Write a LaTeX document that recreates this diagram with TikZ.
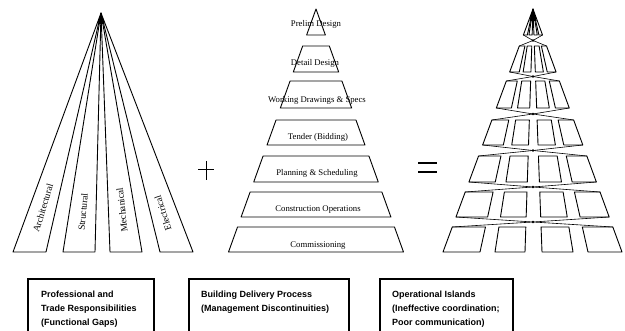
\documentclass[tikz,border=0pt]{standalone}
\usepackage{fontspec}
\setmainfont{Liberation Serif}
\newfontfamily\capsans{Liberation Sans}
\begin{document}
\begin{tikzpicture}[x=1pt,y=-1pt,
  edge/.style={line width=0.9pt, line join=round},
  thinedge/.style={line width=0.6pt},
  tierlabel/.style={font=\fontsize{8.7}{10}\selectfont, inner sep=0pt, anchor=base},
  fanlabel/.style={font=\fontsize{9.5}{11}\selectfont, inner sep=0pt},
  captionbox/.style={line width=1.2pt},
  captiontext/.style={font=\capsans\bfseries\fontsize{9}{14}\selectfont, align=left, anchor=north west, inner sep=0pt}]
\clip (0,0) rectangle (625,331);
\fill[white] (0,0) rectangle (625,331);

% ---- trade fan: four wedges from a common apex
\coordinate (fanapex) at (101,13);
\foreach \l/\r in {13/46, 63/95, 110/142, 160/193}
  \draw[edge] (fanapex) -- (\l,252) -- (\r,252) -- cycle;
\fill (fanapex) -- (98.5,24) -- (103.5,24) -- cycle;
\node[fanlabel, rotate=73.3]  (arch)  at (43,208)  {Architectural};
\node[fanlabel, rotate=84.7]  (struc) at (83,212)  {Structural};
\node[fanlabel, rotate=96.0]  (mech)  at (122,210) {Mechanical};
\node[fanlabel, rotate=107.5] (elec)  at (163,213) {Electrical};

% ---- plus sign
\draw[line width=1pt] (198,170) -- (214,170) (206,161) -- (206,180);

% ---- delivery process: stacked tiers of one triangle
\foreach \t/\b in {9/35, 46/72, 81/108, 120/145, 156/182, 192/217, 227/252}{
  \pgfmathsetmacro\tl{316-0.36*(\t-9)}
  \pgfmathsetmacro\tr{316+0.36*(\t-9)}
  \pgfmathsetmacro\bl{316-0.36*(\b-9)}
  \pgfmathsetmacro\br{316+0.36*(\b-9)}
  \draw[edge] (\tl,\t) -- (\tr,\t) -- (\br,\b) -- (\bl,\b) -- cycle;
}
\node[tierlabel] (prelim) at (316,27)  {Prelim Design};
\node[tierlabel] (detail) at (315,66)  {Detail Design};
\node[tierlabel] (wds)    at (317,103) {Working Drawings \& Specs};
\node[tierlabel] (tender) at (318,140) {Tender (Bidding)};
\node[tierlabel] (plan)   at (317,176) {Planning \& Scheduling};
\node[tierlabel] (constr) at (318,212) {Construction Operations};
\node[tierlabel] (comm)   at (318,248) {Commissioning};

% ---- equals sign
\draw[line width=2.4pt] (418,163) -- (437,163) (418,172) -- (437,172);

% ---- operational islands: fan columns cut by the tiers
\foreach \t/\b in {9/35, 46/72, 81/108, 120/145, 156/182, 192/217, 227/252}{
  \pgfmathsetmacro\ft{(\t-9)/243}
  \pgfmathsetmacro\fb{(\b-9)/243}
  \foreach \p/\q in {-90/-53, -38/-8, 9/40, 55/89}{
    \draw[edge] ({533+\p*\ft},\t) -- ({533+\q*\ft},\t)
      -- ({533+\q*\fb},\b) -- ({533+\p*\fb},\b) -- cycle;
  }
}
\fill (533,9) -- (529.5,21) -- (536.5,21) -- cycle;
% thin bow-ties joining consecutive tiers at the axis
\foreach \b/\t in {35/46, 72/81, 108/120, 145/156, 182/192, 217/227}{
  \pgfmathsetmacro\m{(\b+\t)/2}
  \pgfmathsetmacro\fb{(\b-9)/243}
  \pgfmathsetmacro\ft{(\t-9)/243}
  \draw[thinedge] ({533-90*\fb},\b) -- (533,\m) -- ({533+89*\fb},\b);
  \draw[thinedge] ({533-90*\ft},\t) -- (533,\m) -- ({533+89*\ft},\t);
  \fill (533,\m) circle (1.3);
}

% ---- caption boxes
\draw[captionbox] (28,340) -- (28,279) -- (154,279) -- (154,340);
\draw[captionbox] (189,340) -- (189,279) -- (349,279) -- (349,340);
\draw[captionbox] (380,340) -- (380,279) -- (513,279) -- (513,340);
\node[captiontext] (cap1) at (41,290.5)  {Professional and\\Trade Responsibilities\\(Functional Gaps)};
\node[captiontext] (cap2) at (201,290.5) {Building Delivery Process\\(Management Discontinuities)};
\node[captiontext] (cap3) at (392,290.5) {Operational Islands\\(Ineffective coordination;\\Poor communication)};
\end{tikzpicture}
\end{document}
